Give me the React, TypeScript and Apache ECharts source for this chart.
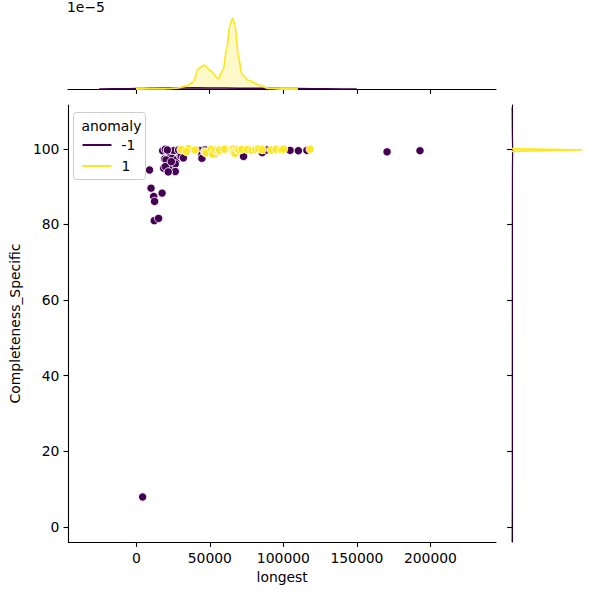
import React, { useEffect, useRef } from "react";
import * as echarts from "echarts";

// ---- data ----
const xTicks = [0, 50000, 100000, 150000, 200000];
const yTicks = [0, 20, 40, 60, 80, 100];
const hueLabels = ["-1", "1"];
const hueColors = ["#440154", "#fde725"];

// anomaly = -1 : [longest, Completeness_Specific]
const anomalyNeg: [number, number][] = [
  [4300, 7.9], [9000, 94.4], [10000, 89.6], [17500, 88.3], [11800, 87.4],
  [12400, 86.1], [12200, 81.0], [15100, 81.6], [17900, 99.5], [19700, 99.9],
  [23100, 98.4], [19200, 97.3], [20900, 96.2], [18500, 94.9], [26000, 94.4],
  [25300, 99.5], [28700, 99.7], [24300, 97.5], [21900, 95.3], [27200, 97.1],
  [26500, 96.0], [29900, 98.2], [20200, 97.1], [19700, 95.3], [26500, 94.0],
  [21700, 93.9], [23800, 96.6], [21100, 99.7], [30500, 98.0], [32000, 97.6],
  [45700, 99.7], [43500, 99.5], [50300, 99.7], [44600, 98.4], [44600, 97.5],
  [46900, 99.7], [53000, 98.7], [72900, 98.0], [85600, 99.0], [88800, 99.7],
  [104600, 99.6], [110200, 99.5], [116000, 99.6], [170500, 99.2], [192900, 99.5],
];

// anomaly = 1
const anomalyPos: [number, number][] = [
  [30400, 99.8], [35300, 100.0], [34000, 99.3], [39900, 99.7], [46500, 99.2],
  [47500, 98.9], [50900, 99.9], [52000, 98.6], [53700, 99.6], [56000, 99.3],
  [56600, 99.7], [60000, 99.9], [64400, 99.7], [65500, 99.4], [66100, 100.0],
  [66500, 99.2], [67000, 98.8], [68400, 99.9], [69800, 99.7], [71800, 99.9],
  [75500, 99.8], [78600, 99.6], [81100, 99.8], [83100, 100.0], [85600, 99.8],
  [91700, 99.7], [95100, 99.9], [98500, 99.8], [100100, 99.9], [118200, 99.9],
];

// marginal KDE of longest (density, units of 1e-5)
const kdeTopNeg: [number, number][] = [
  [-25000, 0.0], [-10000, 0.01], [0, 0.025], [20000, 0.05], [40000, 0.055],
  [60000, 0.045], [80000, 0.035], [100000, 0.025], [120000, 0.012], [140000, 0.004],
  [150000, 0.0],
];
const kdeTopPos: [number, number][] = [
  [0, 0.0], [15000, 0.005], [22000, 0.02], [27600, 0.04], [34400, 0.14],
  [38900, 0.32], [42300, 0.95], [46400, 1.13], [50300, 0.88], [55900, 0.5],
  [59300, 0.9], [61600, 1.9], [63900, 3.04], [65700, 3.35], [67300, 3.0],
  [69500, 1.6], [71800, 0.72], [76300, 0.41], [84200, 0.17], [89900, 0.03],
  [97800, 0.0], [110000, 0.0],
];

// marginal KDE of Completeness_Specific: [density, value]
const kdeRightNeg: [number, number][] = [
  [0.0, -4], [0.003, 10], [0.003, 40], [0.004, 80], [0.006, 95],
  [0.01, 99.6], [0.004, 104], [0.0, 111],
];
const kdeRightPos: [number, number][] = [
  [0.0, 99.35], [0.5, 99.55], [1.0, 99.72], [0.5, 99.85], [0.0, 100.05],
];

const FONT = "DejaVu Sans";
const FS = 13.9;

export default function App() {
  const ref = useRef<HTMLDivElement>(null);

  useEffect(() => {
    if (!ref.current) return;
    const chart = echarts.init(ref.current, undefined, { renderer: "svg" });

    const axisLine = { show: true, onZero: false, lineStyle: { color: "#000", width: 1.1 } };
    const axisTickOut = (vals: number[]) => ({
      show: true,
      inside: false,
      length: 4.9,
      lineStyle: { color: "#000", width: 1.1 },
      customValues: vals,
    });

    const xMin = -46200;
    const xMax = 244600;
    const yMin = -4.0;
    const yMax = 111.6;

    const option: any = {
      animation: false,
      backgroundColor: "#fff",
      textStyle: { fontFamily: FONT },
      grid: [
        { left: 68, top: 105, width: 428, height: 437 },
        { left: 68, top: 15, width: 428, height: 74 },
        { left: 512, top: 105, width: 74, height: 437 },
      ],
      xAxis: [
        {
          gridIndex: 0,
          type: "value",
          min: xMin,
          max: xMax,
          name: "longest",
          nameLocation: "middle",
          nameGap: 27,
          nameTextStyle: { color: "#000", fontSize: FS, fontFamily: FONT },
          axisLine,
          axisTick: axisTickOut(xTicks),
          axisLabel: {
            color: "#000",
            fontSize: FS,
            fontFamily: FONT,
            margin: 9,
            customValues: xTicks,
            formatter: (v: number) => String(v),
          },
          splitLine: { show: false },
        },
        {
          gridIndex: 1,
          type: "value",
          min: xMin,
          max: xMax,
          axisLine,
          axisTick: axisTickOut(xTicks),
          axisLabel: { show: false },
          splitLine: { show: false },
        },
        {
          gridIndex: 2,
          type: "value",
          min: 0,
          max: 1.05,
          show: false,
          splitLine: { show: false },
        },
      ],
      yAxis: [
        {
          gridIndex: 0,
          type: "value",
          min: yMin,
          max: yMax,
          name: "Completeness_Specific",
          nameLocation: "middle",
          nameGap: 44,
          nameRotate: 90,
          nameTextStyle: { color: "#000", fontSize: FS, fontFamily: FONT },
          axisLine,
          axisTick: axisTickOut(yTicks),
          axisLabel: {
            color: "#000",
            fontSize: FS,
            fontFamily: FONT,
            margin: 9,
            customValues: yTicks,
          },
          splitLine: { show: false },
        },
        {
          gridIndex: 1,
          type: "value",
          min: 0,
          max: 3.5,
          show: false,
          splitLine: { show: false },
        },
        {
          gridIndex: 2,
          type: "value",
          min: yMin,
          max: yMax,
          axisLine,
          axisTick: axisTickOut(yTicks),
          axisLabel: { show: false },
          splitLine: { show: false },
        },
      ],
      series: [
        {
          type: "line",
          xAxisIndex: 1,
          yAxisIndex: 1,
          data: kdeTopNeg,
          smooth: 0.3,
          smoothMonotone: "x",
          symbol: "none",
          lineStyle: { color: hueColors[0], width: 1.5 },
          areaStyle: { color: hueColors[0], opacity: 0.25 },
        },
        {
          type: "line",
          xAxisIndex: 1,
          yAxisIndex: 1,
          data: kdeTopPos,
          smooth: 0.3,
          smoothMonotone: "x",
          symbol: "none",
          lineStyle: { color: hueColors[1], width: 1.8 },
          areaStyle: { color: hueColors[1], opacity: 0.25 },
        },
        {
          type: "line",
          xAxisIndex: 2,
          yAxisIndex: 2,
          data: kdeRightNeg,
          smooth: 0.3,
          symbol: "none",
          lineStyle: { color: hueColors[0], width: 1.2, opacity: 0.7 },
        },
        {
          type: "line",
          xAxisIndex: 2,
          yAxisIndex: 2,
          data: kdeRightPos,
          smooth: 0.2,
          symbol: "none",
          lineStyle: { color: hueColors[1], width: 1.8 },
          areaStyle: { color: hueColors[1], opacity: 0.25 },
        },
        {
          type: "scatter",
          name: hueLabels[0],
          xAxisIndex: 0,
          yAxisIndex: 0,
          data: anomalyNeg,
          symbolSize: 8.3,
          itemStyle: { color: hueColors[0], borderColor: "#fff", borderWidth: 0.9, opacity: 1 },
        },
        {
          type: "scatter",
          name: hueLabels[1],
          xAxisIndex: 0,
          yAxisIndex: 0,
          data: anomalyPos,
          symbolSize: 8.3,
          itemStyle: { color: hueColors[1], borderColor: "#fff", borderWidth: 0.9, opacity: 1 },
        },
      ],
      graphic: [
        {
          type: "text",
          left: 67,
          top: 0,
          style: { text: "1e\u22125", fontSize: FS, fontFamily: FONT, fill: "#000" },
        },
        {
          type: "group",
          left: 73,
          top: 112,
          children: [
            {
              type: "rect",
              shape: { x: 0, y: 0, width: 72, height: 67, r: 3 },
              style: { fill: "rgba(255,255,255,0.8)", stroke: "#cccccc", lineWidth: 1 },
            },
            {
              type: "text",
              x: 8,
              y: 13,
              style: {
                text: "anomaly",
                fontSize: FS,
                fontFamily: FONT,
                fill: "#000",
                verticalAlign: "middle",
              },
            },
            {
              type: "line",
              shape: { x1: 9, y1: 32.5, x2: 38, y2: 32.5 },
              style: { stroke: hueColors[0], lineWidth: 2 },
            },
            {
              type: "text",
              x: 48,
              y: 32,
              style: {
                text: hueLabels[0],
                fontSize: FS,
                fontFamily: FONT,
                fill: "#000",
                verticalAlign: "middle",
              },
            },
            {
              type: "line",
              shape: { x1: 9, y1: 53.5, x2: 38, y2: 53.5 },
              style: { stroke: hueColors[1], lineWidth: 2 },
            },
            {
              type: "text",
              x: 48,
              y: 53,
              style: {
                text: hueLabels[1],
                fontSize: FS,
                fontFamily: FONT,
                fill: "#000",
                verticalAlign: "middle",
              },
            },
          ],
        },
      ],
    };

    chart.setOption(option);
    return () => chart.dispose();
  }, []);

  return (
    <div
      ref={ref}
      style={{ position: "fixed", left: 0, top: 0, width: 600, height: 600, background: "#fff" }}
    />
  );
}
